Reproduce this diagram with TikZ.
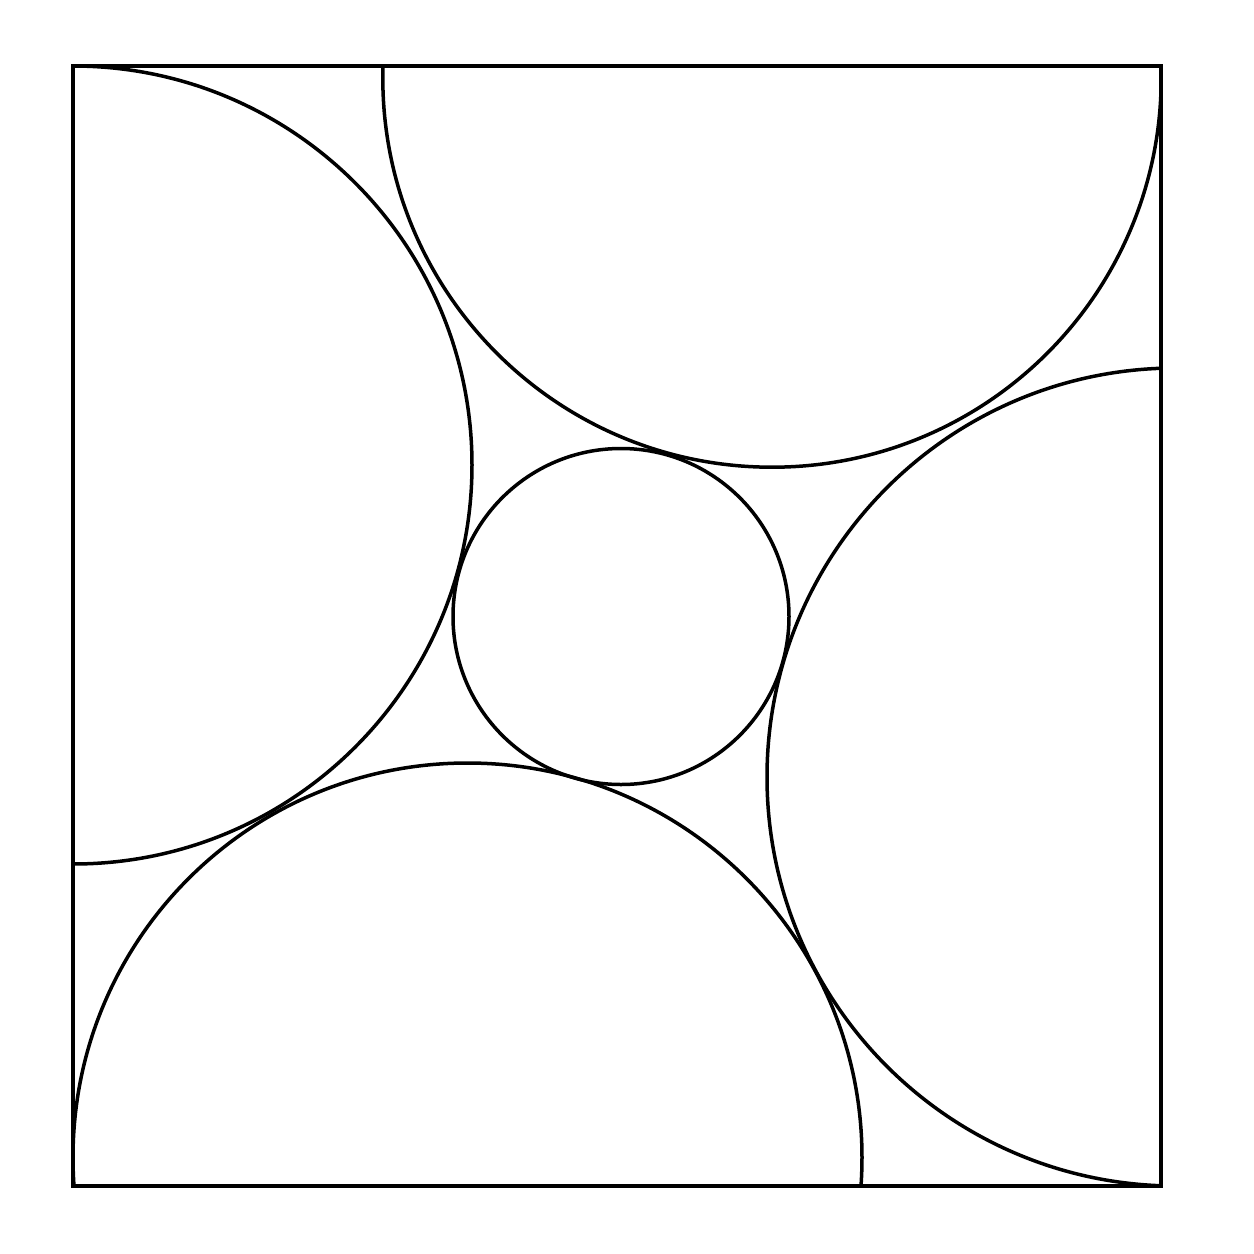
\documentclass[tikz,border=0pt]{standalone}
\begin{document}
\begin{tikzpicture}[x=0.5pt,y=-0.5pt,
  outline/.style={line width=1.9pt,draw=black},
  arcline/.style={line width=1.75pt,draw=black}]
\useasboundingbox (0,0) rectangle (1254,1254);
\coordinate (TL) at (73,66);
\coordinate (BR) at (1161,1186);
\coordinate (cL) at (73,465);
\coordinate (cT) at (772,78);
\coordinate (cR) at (1176,777);
\coordinate (cB) at (467.5,1157.5);
\coordinate (cC) at (621,616.5);
\begin{scope}
  \clip (TL) rectangle (BR);
  \draw[arcline] (cL) circle [radius=199.5pt];
  \draw[arcline] (cT) circle [radius=194.6pt];
  \draw[arcline] (cR) circle [radius=204.5pt];
  \draw[arcline] (cB) circle [radius=197.25pt];
\end{scope}
\draw[arcline] (cC) circle [radius=84pt];
\draw[outline] (TL) rectangle (BR);
\end{tikzpicture}
\end{document}
